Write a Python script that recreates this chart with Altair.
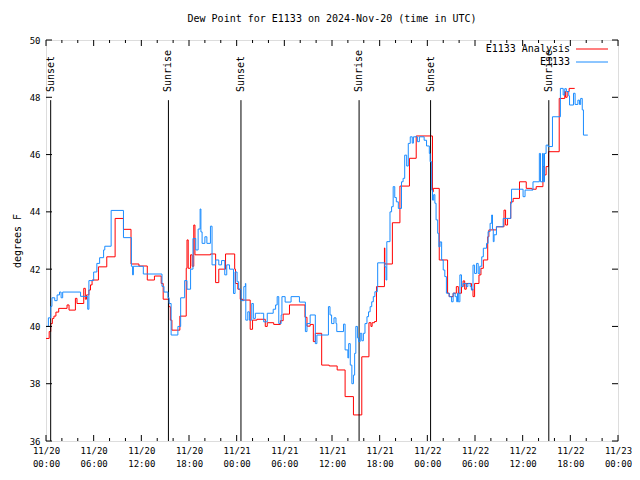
import altair as alt
import pandas as pd

# ---------------- data (hours since 2024-11-20 00:00 UTC) ----------------
blue_h = [0.0, 0.3, 0.6, 0.75, 1.1, 1.4, 1.7, 1.9, 2.1, 4.35, 5.25, 5.4, 6.0, 6.4, 6.75,
          7.25, 7.4, 8.2, 9.75, 10.75, 10.9, 11.0, 12.25, 14.6, 14.85, 15.35, 15.5, 15.75,
          16.6, 16.95, 17.45, 17.75, 18.2, 18.5, 18.85, 19.15, 19.4, 19.5, 19.65, 20.0,
          20.25, 20.7, 20.9, 21.35, 21.75, 22.1, 22.5, 22.75, 23.1, 23.6, 23.8, 24.05,
          24.25, 24.55, 24.9, 25.1, 25.15, 25.4, 25.6, 25.9, 26.1, 26.35, 27.0, 27.4,
          27.85, 28.6, 28.9, 29.1, 29.3, 29.6, 29.7, 30.1, 30.85, 31.9, 32.65, 32.85,
          33.25, 33.9, 34.1, 35.55, 35.75, 35.95, 36.25, 36.5, 36.6, 37.45, 37.65, 38.0,
          38.1, 38.3, 38.5, 38.7, 38.85, 39.0, 39.2, 39.35, 39.55, 39.75, 39.95, 40.15,
          40.4, 40.6, 40.8, 41.0, 41.2, 41.4, 41.7, 41.75, 42.65, 42.8, 42.9, 43.3, 43.5,
          43.7, 43.9, 44.1, 44.35, 44.75, 44.95, 45.15, 45.4, 45.6, 45.85, 46.1, 46.25,
          46.75, 47.0, 47.6, 47.9, 48.25, 48.35, 48.55, 48.65, 48.8, 48.95, 49.1, 49.3,
          49.45, 49.6, 49.8, 50.0, 50.2, 50.4, 50.75, 51.05, 51.25, 51.5, 51.7, 51.8,
          51.9, 52.1, 52.3, 52.5, 52.9, 53.1, 53.4, 53.55, 53.75, 53.95, 54.2, 54.4,
          54.6, 54.85, 55.05, 55.45, 55.65, 55.9, 56.1, 56.2, 56.3, 56.4, 56.7, 57.55,
          58.5, 58.6, 60.05, 60.3, 61.3, 62.1, 62.25, 62.5, 62.6, 62.75, 62.95, 63.2,
          63.75, 64.75, 65.1, 65.3, 65.5, 65.8, 65.9, 66.4, 66.6, 66.95, 67.15, 67.3,
          67.5, 67.65, 68.2]
blue_v = [40.0, 40.3, 40.7, 41.0, 40.9, 41.1, 41.2, 41.0, 41.2, 41.05, 40.6, 41.6, 41.9,
          42.2, 42.4, 42.67, 42.8, 44.05, 43.1, 42.1, 41.8, 42.1, 41.83, 41.4, 41.2, 41.0,
          40.8, 39.7, 40.0, 41.0, 41.6, 41.3, 42.0, 43.07, 42.67, 43.4, 44.1, 43.3, 42.9,
          43.13, 42.9, 43.5, 42.15, 42.32, 42.15, 42.3, 41.8, 42.15, 42.0, 41.15, 41.9,
          41.56, 41.3, 40.9, 41.39, 41.5, 40.22, 40.51, 40.22, 40.8, 40.28, 40.46, 40.46,
          40.16, 40.46, 40.6, 40.75, 41.04, 40.1, 40.4, 41.04, 40.85, 41.04, 40.85, 39.82,
          40.1, 40.4, 39.4, 39.7, 40.69, 40.4, 40.1, 40.3, 40.1, 39.82, 40.08, 39.18, 38.9,
          39.4, 38.65, 38.0, 38.3, 39.06, 40.0, 39.6, 39.47, 39.76, 39.5, 39.76, 40.1,
          40.34, 40.51, 40.69, 40.86, 41.04, 41.21, 41.39, 42.22, 42.08, 41.62, 42.96,
          44.0, 44.18, 44.88, 44.5, 44.35, 44.12, 45.05, 45.17, 45.98, 45.6, 46.39, 46.62,
          46.4, 46.62, 46.45, 46.62, 46.5, 46.3, 46.04, 45.75, 44.76, 44.41, 44.6, 44.3,
          43.72, 43.25, 42.78, 42.95, 42.32, 41.97, 41.74, 41.16, 41.04, 40.86, 41.16,
          41.04, 40.86, 41.16, 40.86, 41.8, 41.39, 41.5, 41.39, 41.5, 41.39, 41.27, 42.14,
          41.85, 42.2, 41.85, 42.1, 42.43, 42.73, 42.9, 43.31, 43.6, 43.89, 43.4, 42.96,
          43.2, 43.48, 43.77, 44.3, 44.79, 44.53, 44.76, 45.05, 46.04, 45.05, 46.04, 45.05,
          46.04, 46.33, 46.28, 47.32, 48.31, 48.08, 48.3, 48.2, 48.05, 47.73, 48.14, 47.75,
          47.9, 47.75, 47.96, 47.56, 46.68, 46.68]

red_h = [0.0, 0.4, 0.6, 0.8, 1.0, 1.25, 1.6, 2.65, 2.9, 3.7, 3.9, 4.75, 4.95, 5.1, 5.4,
         5.6, 5.8, 6.6, 7.65, 8.7, 9.75, 10.7, 11.7, 12.75, 13.65, 14.5, 14.75, 15.45,
         15.65, 15.85, 16.85, 17.65, 17.75, 17.9, 18.2, 18.4, 18.6, 18.75, 20.7, 21.35,
         21.75, 22.6, 23.75, 23.85, 24.15, 24.45, 24.75, 25.7, 26.0, 26.55, 27.6, 27.85,
         28.66, 29.5, 29.85, 30.65, 32.6, 32.85, 33.25, 33.65, 33.9, 34.7, 35.65, 36.65,
         37.65, 38.7, 39.75, 40.65, 40.9, 41.05, 41.35, 41.6, 42.6, 42.65, 43.6, 44.55,
         45.75, 46.6, 48.65, 48.75, 49.5, 50.55, 50.75, 51.25, 51.65, 51.9, 52.3, 52.5,
         52.7, 52.9, 53.55, 53.75, 53.95, 54.5, 54.75, 55.05, 55.6, 55.75, 56.7, 57.65,
         57.85, 58.1, 58.5, 58.8, 59.6, 60.45, 61.15, 61.7, 62.55, 62.75, 62.95, 63.25,
         64.6, 65.3, 65.4, 65.6, 65.85, 66.55]
red_v = [39.58, 39.82, 40.1, 40.28, 40.36, 40.5, 40.63, 40.75, 40.57, 40.98, 40.8, 41.33,
         40.95, 41.1, 41.27, 41.45, 41.62, 42.08, 42.43, 43.77, 43.39, 42.18, 42.11, 41.62,
         41.76, 41.5, 40.95, 40.69, 40.22, 39.87, 40.36, 42.03, 43.02, 42.03, 42.5, 42.1,
         43.54, 42.5, 42.53, 41.53, 42.0, 42.53, 42.0, 41.5, 41.3, 40.95, 40.92, 39.9,
         40.22, 40.25, 40.0, 40.13, 40.07, 40.2, 40.43, 40.75, 40.32, 40.01, 40.07, 39.47,
         39.76, 38.65, 38.62, 38.48, 37.55, 36.91, 38.94, 40.13, 40.0, 40.13, 40.17, 41.39,
         42.74, 42.18, 43.62, 44.9, 45.87, 46.65, 44.7, 44.82, 42.32, 41.16, 41.04, 41.16,
         41.39, 41.16, 41.39, 41.59, 41.3, 41.5, 41.3, 41.04, 41.5, 41.8, 42.03, 42.32,
         43.13, 43.37, 43.48, 44.06, 43.54, 43.77, 44.35, 44.47, 45.05, 44.82, 44.79,
         44.88, 45.58, 45.29, 45.58, 46.1, 47.96, 48.2, 48.0, 48.2, 48.31, 48.31]

event_h = [0.59, 15.41, 24.54, 39.41, 48.41, 63.29]
event_label = ["Sunset", "Sunrise", "Sunset", "Sunrise", "Sunset", "Sunrise"]

x_major = [0, 6, 12, 18, 24, 30, 36, 42, 48, 54, 60, 66, 72]
x_minor = [2, 4, 8, 10, 14, 16, 20, 22, 26, 28, 32, 34, 38, 40, 44, 46, 50, 52, 56, 58,
           62, 64, 68, 70]
y_ticks = [36, 38, 40, 42, 44, 46, 48, 50]

series_names = ["E1133 Analysis", "E1133"]
series_colors = ["#ff0000", "#1a8cff"]

title_text = "Dew Point for E1133 on 2024-Nov-20 (time in UTC)"
y_title = "degrees F"

# ---------------- chart ----------------
W, H = 572, 401
FONT = "DejaVu Sans Mono"

xs = alt.Scale(domain=[0, 72], nice=False, zero=False)
ys = alt.Scale(domain=[36, 50], nice=False, zero=False)

df_red = pd.DataFrame({"h": red_h, "v": red_v})
df_blue = pd.DataFrame({"h": blue_h, "v": blue_v})
df_ev = pd.DataFrame({"h": event_h, "label": event_label})
df_xmaj = pd.DataFrame({"h": x_major})
df_xmin = pd.DataFrame({"h": x_minor})
df_y = pd.DataFrame({"v": y_ticks})
df_one = pd.DataFrame({"k": [0]})

label_expr = ("['11/' + (20 + floor(datum.value / 24)), "
              "(datum.value % 24 < 10 ? '0' : '') + (datum.value % 24) + ':00']")

x_axis = alt.Axis(values=x_major, labelExpr=label_expr, domain=False, ticks=False,
                  grid=False, labelFont=FONT, labelFontSize=9,
                  labelColor="black", labelPadding=5, labelLineHeight=13,
                  labelFlush=False, labelOverlap=False, title=None)
y_axis = alt.Axis(values=y_ticks, domain=False, ticks=False, grid=False,
                  labelFont=FONT, labelFontSize=9, labelColor="black", labelPadding=6,
                  title=y_title, titleFont=FONT, titleFontSize=10,
                  titleFontWeight="normal", titleColor="black", titlePadding=7)

X = alt.X("h:Q", scale=xs, axis=x_axis)
Y = alt.Y("v:Q", scale=ys, axis=y_axis)

red = alt.Chart(df_red).mark_line(interpolate="step-after", color=series_colors[0],
                                  strokeWidth=1).encode(x=X, y=Y)
blue = alt.Chart(df_blue).mark_line(interpolate="step-after", color=series_colors[1],
                                    strokeWidth=1).encode(x=X, y=Y)

ev_rules = alt.Chart(df_ev).mark_rule(color="black", strokeWidth=1).encode(
    x=X, y=alt.value(H * 0.15), y2=alt.value(H))
ev_text = alt.Chart(df_ev).mark_text(angle=270, align="left", baseline="middle",
                                     font=FONT, fontSize=10, color="black").encode(
    x=X, y=alt.value(52), text="label:N")

def xtick(df, y0, y1):
    return alt.Chart(df).mark_rule(color="black", strokeWidth=1).encode(
        x=X, y=alt.value(y0), y2=alt.value(y1))

def ytick(x0, x1):
    return alt.Chart(df_y).mark_rule(color="black", strokeWidth=1).encode(
        y=Y, x=alt.value(x0), x2=alt.value(x1))

ticks = [
    xtick(df_xmaj, H, H - 6), xtick(df_xmaj, 0, 6),
    xtick(df_xmin, H, H - 3), xtick(df_xmin, 0, 3),
    ytick(0, 6), ytick(W - 6, W),
]

leg = []
for i, (nm, col) in enumerate(zip(series_names, series_colors)):
    yy = 9 + 13 * i
    leg.append(alt.Chart(df_one).mark_text(text=nm, align="right", baseline="middle",
                                           font=FONT, fontSize=10, color="black").encode(
        x=alt.value(W - 48), y=alt.value(yy)))
    leg.append(alt.Chart(df_one).mark_rule(color=col, strokeWidth=1).encode(
        x=alt.value(W - 42), x2=alt.value(W - 10), y=alt.value(yy)))

chart = alt.layer(red, ev_rules, ev_text, blue, *ticks, *leg).properties(
    width=W, height=H,
    title=alt.TitleParams(title_text, font=FONT, fontSize=10, fontWeight="normal",
                          color="black", anchor="middle", offset=12),
    autosize=alt.AutoSizeParams(type="none"),
    padding={"left": 38, "top": 32, "right": 14, "bottom": 31},
).configure_view(stroke="black", strokeWidth=1).configure(background="white")

chart.save("out.html", embed_options={"renderer": "svg", "actions": False})
